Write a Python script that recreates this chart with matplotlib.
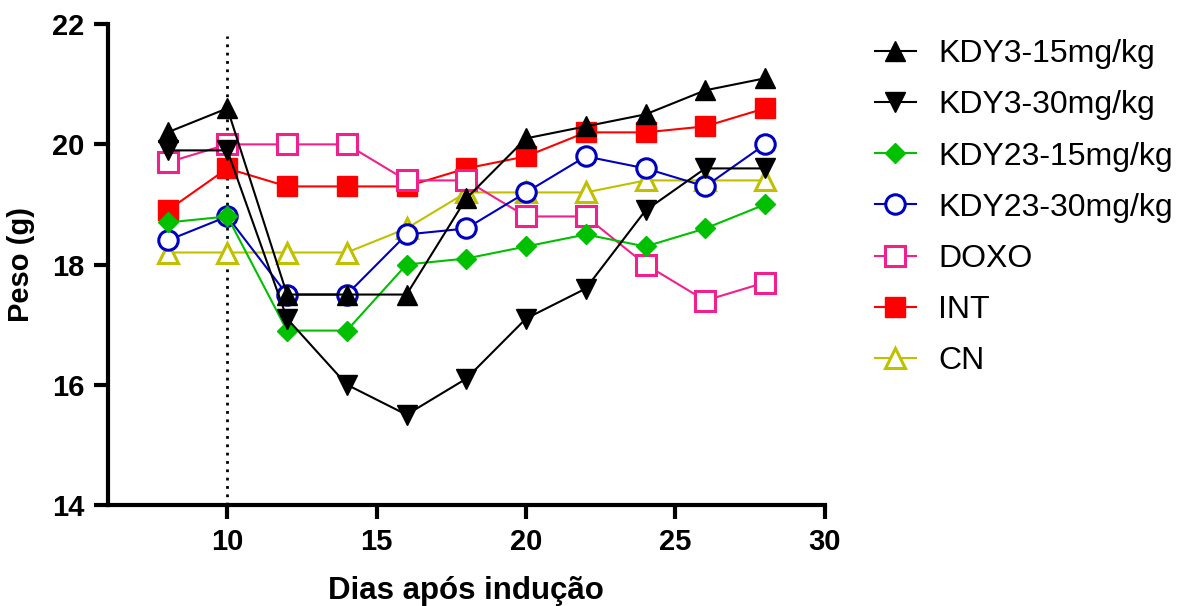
import matplotlib
matplotlib.use("Agg")
import matplotlib.pyplot as plt

plt.rcParams['font.family'] = ['Liberation Sans', 'DejaVu Sans']

dias = [8, 10, 12, 14, 16, 18, 20, 22, 24, 26, 28]

kdy3_15 = [20.2, 20.6, 17.5, 17.5, 17.5, 19.1, 20.1, 20.3, 20.5, 20.9, 21.1]
kdy3_30 = [19.9, 19.9, 17.1, 16.0, 15.5, 16.1, 17.1, 17.6, 18.9, 19.6, 19.6]
kdy23_15 = [18.7, 18.8, 16.9, 16.9, 18.0, 18.1, 18.3, 18.5, 18.3, 18.6, 19.0]
kdy23_30 = [18.4, 18.8, 17.5, 17.5, 18.5, 18.6, 19.2, 19.8, 19.6, 19.3, 20.0]
doxo = [19.7, 20.0, 20.0, 20.0, 19.4, 19.4, 18.8, 18.8, 18.0, 17.4, 17.7]
inter = [18.9, 19.6, 19.3, 19.3, 19.3, 19.6, 19.8, 20.2, 20.2, 20.3, 20.6]
cn = [18.2, 18.2, 18.2, 18.2, 18.6, 19.2, 19.2, 19.2, 19.4, 19.4, 19.4]

grupos = ['KDY3-15mg/kg', 'KDY3-30mg/kg', 'KDY23-15mg/kg', 'KDY23-30mg/kg',
          'DOXO', 'INT', 'CN']

# (values, colour, marker, filled, size)
estilos = [
    (kdy3_15, 'black', '^', True, 15),
    (kdy3_30, 'black', 'v', True, 15),
    (kdy23_15, '#00c000', 'D', True, 10),
    (kdy23_30, '#0000c0', 'o', False, 14),
    (doxo, '#f0208c', 's', False, 14),
    (inter, '#ff0000', 's', True, 14),
    (cn, '#c0c000', '^', False, 15),
]

fig = plt.figure(figsize=(11.85, 6.06), dpi=100)
ax = fig.add_axes([0.091, 0.167, 0.605, 0.793])

handles = []
n = len(estilos)
for i, (nome, (vals, cor, mk, cheio, ms)) in enumerate(zip(grupos, estilos)):
    h, = ax.plot(dias, vals, color=cor, lw=1.5, marker=mk, markersize=ms,
                 markerfacecolor=cor if cheio else 'white',
                 markeredgecolor=cor, markeredgewidth=2.2 if not cheio else 1,
                 label=nome, zorder=10 + n - i, clip_on=False)
    handles.append(h)

ax.plot([10, 10], [14, 21.8], color='black', lw=2, linestyle=(0, (1, 2)), zorder=2)

ax.set_xlim(6, 30)
ax.set_ylim(14, 22)
ax.set_xticks([10, 15, 20, 25, 30])
ax.set_yticks([14, 16, 18, 20, 22])

for s in ['top', 'right']:
    ax.spines[s].set_visible(False)
for s in ['left', 'bottom']:
    ax.spines[s].set_linewidth(3)
ax.tick_params(width=3, length=10, labelsize=21, pad=7)
for lbl in ax.get_xticklabels() + ax.get_yticklabels():
    lbl.set_fontweight('bold')

ax.set_xlabel('Dias após indução', fontsize=22.5, fontweight='bold', labelpad=14)
ax.set_ylabel('Peso (g)', fontsize=21, fontweight='bold', labelpad=12)

fig.legend(handles=handles, loc='upper left', bbox_to_anchor=(0.738, 0.935),
           frameon=False, fontsize=23, handlelength=1.3, handletextpad=0.7,
           labelspacing=0.66, borderpad=0, borderaxespad=0)

fig.savefig('out.png', dpi=100)
